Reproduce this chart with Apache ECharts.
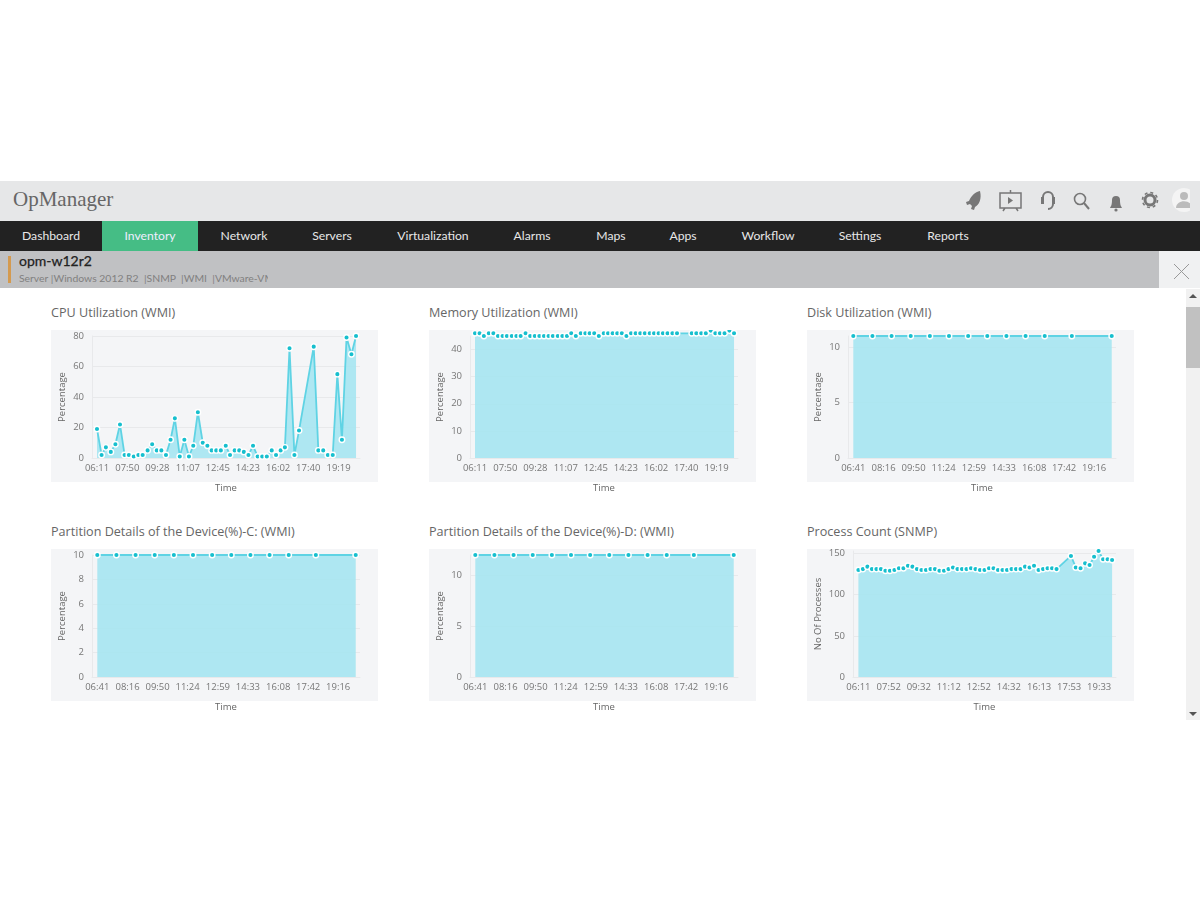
<!DOCTYPE html>
<html>
<head>
<meta charset="utf-8">
<title>OpManager</title>
<script src="https://cdn.jsdelivr.net/npm/echarts@6/dist/echarts.min.js"></script>
<style>
html,body{margin:0;padding:0;background:#fff;width:1200px;height:900px;overflow:hidden;font-family:Lato,sans-serif}
.abs{position:absolute}
#top{left:0;top:181px;width:1200px;height:40px;background:#e6e7e8}
#logo{left:13px;top:186px;font:21px/26px "Liberation Serif",serif;color:#666}
#nav{left:0;top:221px;width:1200px;height:30px;background:#222}
#nav span{position:absolute;top:0;line-height:29px;font-size:12.2px;color:#e8e8e8;transform:translateX(-50%);white-space:nowrap}
#tab{left:102px;top:221px;width:96px;height:30px;background:#45bd85}
#sub{left:0;top:251px;width:1159px;height:37px;background:#c0c1c3}
#closebox{left:1159px;top:251px;width:41px;height:37px;background:#f0f1f2}
#mark{left:8px;top:256px;width:3px;height:27px;background:#d49a4f}
#host{left:19px;top:251px;font-size:14px;line-height:20px;color:#222;-webkit-text-stroke:.25px #222}
#info{left:19px;top:271px;width:249px;overflow:hidden;white-space:nowrap;font-size:10.4px;line-height:14px;color:#808080}
#track{left:1186px;top:289px;width:14px;height:431px;background:#f1f1f1}
#thumb{left:1186px;top:307px;width:14px;height:61px;background:#c1c1c1}
.title{position:absolute;font:12.6px/18px "Open Sans",sans-serif;color:#666;white-space:nowrap}
.panel{position:absolute;width:327px;height:152px;background:#f4f5f7}
.chart{position:absolute;width:327px;height:170px}
</style>
</head>
<body>
<div class="abs" id="top"></div>
<div class="abs" id="logo">OpManager</div>
<svg class="abs" style="left:960px;top:186px" width="230" height="30" viewBox="0 0 230 30" fill="#777">
  <path d="M20 5c-5 1-9 5-11 10l-3 1 1 3 3-1 2 2-1 3 3 1 1-3c4-2 7-8 5-16z"/>
  <path d="M40 7h21v15h-21zM50.500 4v3M45 22l-2 3M56 22l2 3" fill="none" stroke="#777" stroke-width="1.5"/><path d="M48 11l5 3.500-5 3.500z"/>
  <path d="M83 11a5 5 0 0 1 10 0v7a5 5 0 0 1-5 5" fill="none" stroke="#777" stroke-width="2"/><rect x="81" y="11" width="3" height="7"/><rect x="92" y="11" width="3" height="7"/>
  <circle cx="120" cy="13" r="5.500" fill="none" stroke="#777" stroke-width="1.600"/><path d="M124 17l5 6" stroke="#777" stroke-width="2"/>
  <path d="M150 22c1-2 2-3 2-8a4 4 0 0 1 8 0c0 5 1 6 2 8z"/><circle cx="156" cy="24" r="1.600"/>
  <circle cx="190" cy="14" r="5" fill="none" stroke="#777" stroke-width="3"/><circle cx="190" cy="14" r="7.500" fill="none" stroke="#777" stroke-width="1.600" stroke-dasharray="3 2.900"/>
  <circle cx="224" cy="14" r="12" fill="#f4f4f4"/><circle cx="224" cy="10" r="4" fill="#bbb"/><path d="M216 22c0-9 16-9 16 0z" fill="#bbb"/>
</svg>
<div class="abs" id="nav">
  <span style="left:51px">Dashboard</span><span style="left:244px">Network</span><span style="left:332px">Servers</span>
  <span style="left:433px">Virtualization</span><span style="left:532px">Alarms</span><span style="left:611px">Maps</span>
  <span style="left:683px">Apps</span><span style="left:768px">Workflow</span><span style="left:860px">Settings</span><span style="left:948px">Reports</span>
</div>
<div class="abs" id="tab"></div>
<div class="abs" style="left:150px;top:221px;transform:translateX(-50%);line-height:29px;font-size:12.2px;color:#eef">Inventory</div>
<div class="abs" id="sub"></div>
<div class="abs" id="closebox"></div>
<svg class="abs" style="left:1173px;top:263px" width="17" height="17"><path d="M1 1L16 16M16 1L1 16" stroke="#999" stroke-width="1"/></svg>
<div class="abs" id="mark"></div>
<div class="abs" id="host">opm-w12r2</div>
<div class="abs" id="info">Server |Windows 2012 R2 &nbsp;|SNMP &nbsp;|WMI &nbsp;|VMware-VM</div>
<div class="abs" id="track"></div>
<div class="abs" id="thumb"></div>
<svg class="abs" style="left:1188px;top:293px" width="10" height="6"><path d="M1 5L5 1L9 5z" fill="#555"/></svg>
<svg class="abs" style="left:1188px;top:711px" width="10" height="6"><path d="M1 1L5 5L9 1z" fill="#555"/></svg>

<script>
// sample times
var timesA = ['06:11','06:26','06:40','06:56','07:11','07:26','07:41','07:55','08:11','08:26','08:40','08:56','09:11','09:26','09:41','09:56','10:11','10:25','10:41','10:56','11:11','11:25','11:40','11:56','12:11','12:25','12:40','12:55','13:11','13:25','13:40','13:55','14:10','14:25','14:40','14:55','15:10','15:25','15:41','15:55','16:10','16:24','16:39','16:55','17:10','17:58','18:13','18:29','18:44','19:00','19:15','19:30','19:45','20:01','20:16'];
var timesB = ['06:41','07:41','08:41','09:41','10:41','11:41','12:41','13:41','14:41','15:41','16:41','18:06','20:11'];
var timesC = ['06:11','06:26','06:41','06:56','07:11','07:26','07:41','07:56','08:11','08:26','08:41','08:56','09:11','09:26','09:41','09:56','10:11','10:26','10:41','10:56','11:11','11:26','11:41','11:56','12:11','12:26','12:41','12:56','13:11','13:26','13:41','13:56','14:11','14:26','14:41','14:56','15:11','15:26','15:41','15:56','16:11','16:26','16:41','16:56','17:11','17:59','18:15','18:31','18:46','19:01','19:16','19:31','19:46','20:01','20:16'];

// tick labels
var ticksA = ['06:11','07:50','09:28','11:07','12:45','14:23','16:02','17:40','19:19'];
var ticksB = ['06:41','08:16','09:50','11:24','12:59','14:33','16:08','17:42','19:16'];
var ticksC = ['06:11','07:52','09:32','11:12','12:52','14:32','16:13','17:53','19:33'];

// series values
var cpuValues = [19,2,7,4,9,22,2,2,1,2,2,5,9,5,5,2,12,26,1,12,1,8,30,10,8,5,5,5,8,2,5,5,4,2,8,1,1,1,5,2,5,7,72,2,18,73,5,5,2,2,55,12,79,68,80];
var memValues = [46,46,45,46,46,45,45,45,45,45,45,46,45,45,45,45,45,45,45,45,45,46,45,46,46,46,46,45,46,46,46,46,46,45,46,46,46,46,46,46,46,46,46,46,46,46,46,46,46,47,46,46,46,47,46];
var diskValues = [11,11,11,11,11,11,11,11,11,11,11,11,11];
var partCValues = [10,10,10,10,10,10,10,10,10,10,10,10,10];
var partDValues = [12,12,12,12,12,12,12,12,12,12,12,12,12];
var procValues = [130,131,134,131,131,131,129,129,130,132,132,135,134,131,130,130,131,131,129,129,131,133,131,131,131,132,131,130,130,132,132,130,130,130,131,131,131,134,133,135,130,131,132,132,131,147,133,132,138,136,146,153,143,143,142];

function toMin(t){ var p = t.split(':'); return (+p[0])*60 + (+p[1]); }
function toTime(m){ var h = Math.floor(m/60), n = m%60; return (h<10?'0':'')+h+':'+(n<10?'0':'')+n; }

var labelFont = {color:'#777', fontSize:9.5, fontFamily:'"Open Sans",sans-serif'};
var nameFont = {color:'#666', fontSize:9.5, fontFamily:'"Open Sans",sans-serif'};

function drawChart(cfg){
  var title = document.createElement('div');
  title.className = 'title';
  title.style.left = cfg.x+'px';
  title.style.top = (cfg.y-26)+'px';
  title.textContent = cfg.title;
  document.body.appendChild(title);

  var panel = document.createElement('div');
  panel.className = 'panel';
  panel.style.left = cfg.x+'px';
  panel.style.top = cfg.y+'px';
  document.body.appendChild(panel);

  var box = document.createElement('div');
  box.className = 'chart';
  box.style.left = cfg.x+'px';
  box.style.top = cfg.y+'px';
  document.body.appendChild(box);

  var chart = echarts.init(box, null, {renderer:'canvas'});
  chart.setOption({
    animation:false,
    grid:{left:cfg.left, top:cfg.top, right:18, height:128-cfg.top, outerBoundsMode:'none'},
    xAxis:{
      type:'value', min:cfg.min, max:cfg.max,
      name:'Time', nameLocation:'middle', nameGap:25, nameMoveOverlap:false, nameTextStyle:nameFont,
      axisLine:{show:true, lineStyle:{color:'#e8e9eb'}}, axisTick:{show:false}, splitLine:{show:false},
      axisLabel:Object.assign({customValues:cfg.ticks.map(toMin), formatter:function(v){return toTime(v);}, margin:5, hideOverlap:false}, labelFont)
    },
    yAxis:{
      type:'value', min:0, max:cfg.yMax, interval:cfg.yStep,
      name:cfg.yName, nameLocation:'middle', nameGap:cfg.nameGap, nameMoveOverlap:false, nameTextStyle:nameFont,
      axisLine:{show:true, lineStyle:{color:'#e8e9eb'}}, axisTick:{show:false},
      splitLine:{show:true, showMaxLine:cfg.maxLine, lineStyle:{color:'#e8e9eb'}},
      axisLabel:Object.assign({margin:8, showMaxLabel:cfg.maxLine}, labelFont)
    },
    series:[{
      type:'line', clip:false,
      data:cfg.times.map(function(t,i){ return [toMin(t), cfg.values[i]]; }),
      symbol:'circle', symbolSize:5.5, showAllSymbol:true,
      lineStyle:{color:'#5fd3e4', width:1.8},
      itemStyle:{color:'#16bfce', borderColor:'#fff', borderWidth:1.4},
      areaStyle:{color:'#a6e6f1', opacity:0.9}
    }]
  });
}

drawChart({title:'CPU Utilization (WMI)', x:51, y:330, left:41, top:6, min:354.7, max:1228.9, ticks:ticksA, times:timesA, values:cpuValues, yMax:80, yStep:20, yName:'Percentage', nameGap:25, maxLine:true});
drawChart({title:'Memory Utilization (WMI)', x:429, y:330, left:41, top:6, min:354.7, max:1228.9, ticks:ticksA, times:timesA, values:memValues, yMax:45, yStep:10, yName:'Percentage', nameGap:25, maxLine:false});
drawChart({title:'Disk Utilization (WMI)', x:807, y:330, left:41, top:6, min:384.4, max:1224.4, ticks:ticksB, times:timesB, values:diskValues, yMax:11, yStep:5, yName:'Percentage', nameGap:25, maxLine:false});
drawChart({title:'Partition Details of the Device(%)-C: (WMI)', x:51, y:549, left:41, top:6, min:384.4, max:1224.4, ticks:ticksB, times:timesB, values:partCValues, yMax:10, yStep:2, yName:'Percentage', nameGap:25, maxLine:true});
drawChart({title:'Partition Details of the Device(%)-D: (WMI)', x:429, y:549, left:41, top:6, min:384.4, max:1224.4, ticks:ticksB, times:timesB, values:partDValues, yMax:12, yStep:5, yName:'Percentage', nameGap:25, maxLine:false});
drawChart({title:'Process Count (SNMP)', x:807, y:549, left:46, top:2, min:353, max:1229, ticks:ticksC, times:timesC, values:procValues, yMax:153, yStep:50, yName:'No Of Processes', nameGap:30, maxLine:false});
</script>
</body>
</html>
